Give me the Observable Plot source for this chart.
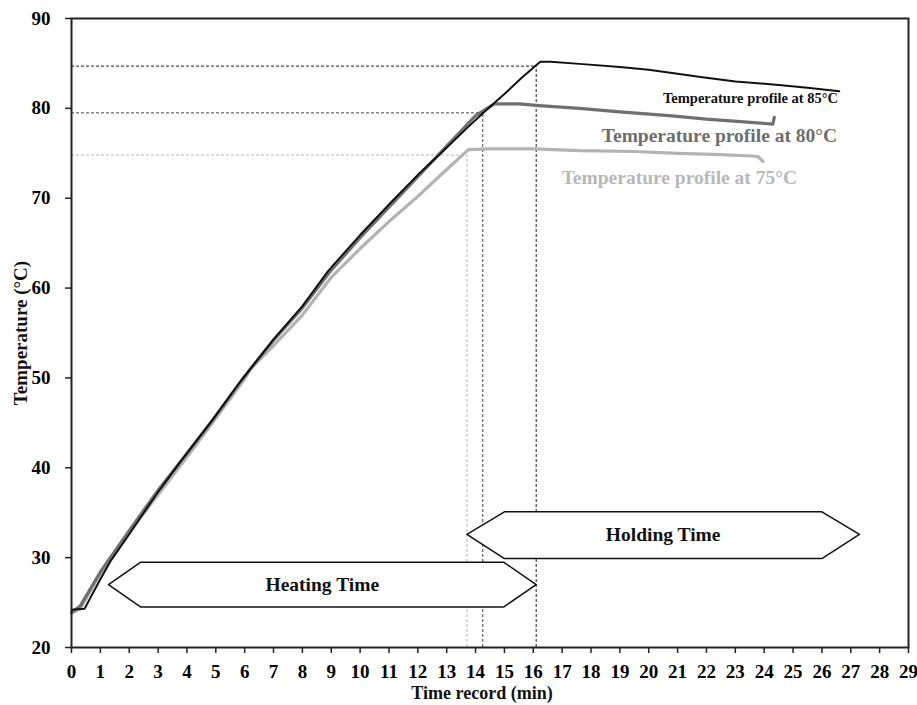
<!DOCTYPE html>
<html>
<head>
<meta charset="utf-8">
<script src="https://cdn.jsdelivr.net/npm/d3@7"></script>
<script src="https://cdn.jsdelivr.net/npm/@observablehq/plot@0.6"></script>
<style>
  html, body { margin: 0; padding: 0; background: #fff; }
  #chart svg { display: block; }
</style>
</head>
<body>
<div id="chart"></div>
<script>
// Temperature profile at 85°C (black)
const t85 = [0, 0.45, 1, 1.35, 2, 2.42, 3, 3.8, 4.81, 5.85, 7, 8, 8.87, 9, 10, 11, 12, 12.8, 13.7, 14.3, 15, 15.6, 16.24, 16.6, 17.6, 19, 20, 21.8, 23, 24.5, 25.5, 26.6];
const v85 = [24.2, 24.3, 27.6, 29.6, 32.6, 34.6, 37.3, 40.8, 45.0, 49.6, 54.3, 58.0, 61.8, 62.3, 65.9, 69.3, 72.6, 75.0, 77.8, 79.6, 81.6, 83.4, 85.2, 85.2, 84.95, 84.6, 84.3, 83.5, 83.0, 82.6, 82.3, 81.9];
// Temperature profile at 80°C (dark grey)
const t80 = [0, 0.3, 1, 2, 3, 4, 5, 6, 7, 8, 9, 10, 11, 12, 13, 14, 14.65, 15.5, 16.2, 17.6, 19, 20.7, 22, 23.3, 24.3, 24.35];
const v80 = [23.9, 24.6, 28.4, 33.0, 37.5, 41.6, 45.8, 50.2, 54.2, 57.8, 62.0, 65.6, 69.0, 72.4, 75.8, 79.2, 80.5, 80.5, 80.3, 80.0, 79.6, 79.2, 78.8, 78.5, 78.25, 79.0];
// Temperature profile at 75°C (light grey)
const t75 = [0, 0.3, 1, 2, 3, 4, 5, 6, 6.2, 7, 8, 9, 10, 11, 12, 13, 13.75, 14.5, 16, 17.6, 19.5, 21, 22.5, 23.6, 23.8, 23.95];
const v75 = [23.8, 24.3, 28.2, 32.8, 37.0, 41.2, 45.5, 49.9, 51.0, 53.6, 57.0, 61.2, 64.4, 67.4, 70.2, 73.2, 75.4, 75.5, 75.5, 75.3, 75.2, 75.0, 74.85, 74.7, 74.6, 74.1];

// Set-point reference lines: [time reached (min), temperature]
const refTimes = [16.1, 14.25, 13.7];
const refTemps = [84.7, 79.5, 74.8];
const refColors = ["#222", "#444", "#b5b5b5"];

// Arrow outlines (min, °C)
const heatX = [1.28, 2.4, 14.97, 16.1, 14.97, 2.4, 1.28];
const heatY = [27.0, 29.5, 29.5, 27.0, 24.5, 24.5, 27.0];
const holdX = [13.7, 15.0, 26.0, 27.3, 26.0, 15.0, 13.7];
const holdY = [32.6, 35.1, 35.1, 32.6, 29.9, 29.9, 32.6];

const labels = ["Temperature profile at 85°C", "Temperature profile at 80°C", "Temperature profile at 75°C"];
const labelX = [26.56, 26.53, 25.14];
const labelY = [81.1, 76.9, 72.3];

const xTicks = d3.range(0, 30);
const yTicks = [20, 30, 40, 50, 60, 70, 80, 90];

const zip = (xs, ys) => xs.map((x, i) => ({x, y: ys[i]}));
const s85 = zip(t85, v85), s80 = zip(t80, v80), s75 = zip(t75, v75);
const hRefs = refTimes.map((t, i) => ({x1: 0, x2: t, y: refTemps[i], c: refColors[i]}));
const vRefs = refTimes.map((t, i) => ({x: t, y1: 20, y2: refTemps[i], c: refColors[i]}));

const font = "'Liberation Serif', 'Times New Roman', serif";

const chart = Plot.plot({
  width: 917,
  height: 705,
  marginLeft: 71,
  marginRight: 9,
  marginTop: 18,
  marginBottom: 58,
  style: {fontFamily: font, fontWeight: "bold", fontSize: "19px", background: "#fff", overflow: "visible"},
  x: {domain: [0, 29]},
  y: {domain: [20, 90]},
  marks: [
    // dashed reference lines
    Plot.ruleY(hRefs, {y: "y", x1: "x1", x2: "x2", stroke: "c", strokeWidth: 1, strokeDasharray: "3,2"}),
    Plot.ruleX(vRefs, {x: "x", y1: "y1", y2: "y2", stroke: "c", strokeWidth: 1, strokeDasharray: "3,2"}),
    // arrows
    Plot.line(zip(heatX, heatY), {x: "x", y: "y", stroke: "#111", strokeWidth: 1.5, fill: "white", curve: "linear"}),
    Plot.line(zip(holdX, holdY), {x: "x", y: "y", stroke: "#111", strokeWidth: 1.5, fill: "white", curve: "linear"}),
    Plot.text(["Heating Time"], {x: 8.69, y: 27.0, fontSize: 19.5, fill: "#111"}),
    Plot.text(["Holding Time"], {x: 20.5, y: 32.6, fontSize: 19.5, fill: "#111"}),
    // temperature curves
    Plot.line(s75, {x: "x", y: "y", stroke: "#b3b3b3", strokeWidth: 3.2}),
    Plot.line(s80, {x: "x", y: "y", stroke: "#707070", strokeWidth: 3.2}),
    Plot.line(s85, {x: "x", y: "y", stroke: "#111", strokeWidth: 2}),
    // curve labels
    Plot.text([0], {x: () => labelX[0], y: () => labelY[0], text: () => labels[0], textAnchor: "end", fontSize: 14.5, fill: "#111"}),
    Plot.text([0], {x: () => labelX[1], y: () => labelY[1], text: () => labels[1], textAnchor: "end", fontSize: 19.5, fill: "#6e6e6e"}),
    Plot.text([0], {x: () => labelX[2], y: () => labelY[2], text: () => labels[2], textAnchor: "end", fontSize: 19.5, fill: "#b8b8b8"}),
    // axes
    Plot.axisX({ticks: xTicks, tickFormat: d => d, tickSize: 6, tickPadding: 11, fontSize: 19, label: null, stroke: "#222", strokeWidth: 1.5}),
    Plot.axisY({ticks: yTicks, tickFormat: d => d, tickSize: 6, tickPadding: 15, fontSize: 19, label: null, stroke: "#222", strokeWidth: 1.5}),
    Plot.frame({stroke: "#222", strokeWidth: 2}),
    Plot.text(["Time record (min)"], {frameAnchor: "bottom", textAnchor: "middle", lineAnchor: "middle", dx: -8, dy: 46, fontSize: 18, fill: "#111"}),
    Plot.text(["Temperature (°C)"], {frameAnchor: "left", textAnchor: "middle", lineAnchor: "middle", dx: -51, rotate: -90, fontSize: 19, fill: "#111"})
  ]
});
document.getElementById("chart").appendChild(chart);
</script>
</body>
</html>
